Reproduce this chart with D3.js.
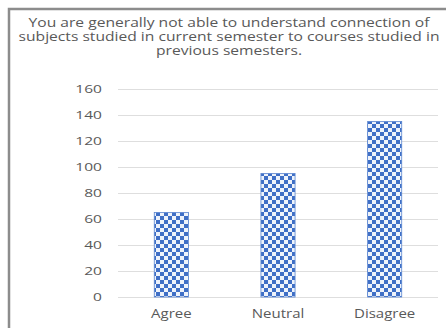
<!DOCTYPE html>
<html>
<head>
<meta charset="utf-8">
<script src="https://cdn.jsdelivr.net/npm/d3@7"></script>
<style>
  body { margin: 0; background: #fff; }
  svg { display: block; font-family: "Open Sans", sans-serif; }
</style>
</head>
<body>
<svg id="chart" width="446" height="328"></svg>
<script>
const categories = ['Agree', 'Neutral', 'Disagree'];
const counts = [65, 95, 135];
const yTicks = [0, 20, 40, 60, 80, 100, 120, 140, 160];
const titleLines = [
  'You are generally not able to understand connection of',
  'subjects studied in current semester to courses studied in',
  'previous semesters.'
];

const svg = d3.select('svg#chart');
const margin = { top: 89, left: 118, right: 8, bottom: 31 };
const width = 446, height = 328;
const textColor = '#595959';

// checkerboard fill like the excel pattern
const defs = svg.append('defs');
const pat = defs.append('pattern')
  .attr('id', 'checker')
  .attr('patternUnits', 'userSpaceOnUse')
  .attr('width', 8).attr('height', 8);
pat.append('rect').attr('width', 8).attr('height', 8).attr('fill', '#eef3fb');
pat.append('rect').attr('width', 4).attr('height', 4).attr('fill', '#3f6fc6');
pat.append('rect').attr('x', 4).attr('y', 4).attr('width', 4).attr('height', 4).attr('fill', '#3f6fc6');

// frame
svg.append('path')
  .attr('d', `M9,${height} V9 H${width}`)
  .attr('fill', 'none')
  .attr('stroke', '#8c8c8c')
  .attr('stroke-width', 2.5);

const x = d3.scaleBand()
  .domain(categories)
  .range([margin.left, width - margin.right])
  .paddingInner(0.68)
  .paddingOuter(0.34);

const y = d3.scaleLinear()
  .domain([0, 160])
  .range([height - margin.bottom, margin.top]);

svg.append('g')
  .selectAll('line').data(yTicks)
  .enter().append('line')
    .attr('x1', margin.left).attr('x2', width - margin.right)
    .attr('y1', d => y(d) + 0.5).attr('y2', d => y(d) + 0.5)
    .attr('stroke', '#dedede');

const yAxis = svg.append('g')
  .attr('transform', `translate(${margin.left - 16},0)`)
  .call(d3.axisLeft(y).tickValues(yTicks).tickSize(0).tickPadding(0));
yAxis.select('.domain').remove();
yAxis.selectAll('text')
  .attr('fill', textColor)
  .attr('transform', 'scale(1.35,1)')
  .style('font-size', '11.5px')
  .style('font-family', '"Open Sans", sans-serif');

svg.append('g')
  .selectAll('rect').data(counts)
  .enter().append('rect')
    .attr('x', (d, i) => x(categories[i]))
    .attr('width', x.bandwidth())
    .attr('y', d => y(d))
    .attr('height', d => y(0) - y(d))
    .attr('fill', 'url(#checker)')
    .attr('stroke', '#5b86d0')
    .attr('stroke-width', 0.8);

const xAxis = svg.append('g')
  .attr('transform', `translate(0,${y(0) + 12})`)
  .call(d3.axisBottom(x).tickSize(0).tickPadding(0));
xAxis.select('.domain').remove();
xAxis.selectAll('text')
  .attr('fill', textColor)
  .attr('transform', 'scale(1.25,1)')
  .style('font-size', '12px')
  .style('font-family', '"Open Sans", sans-serif');

svg.append('g')
  .attr('transform', 'translate(229,0) scale(1.24,1)')
  .append('text')
    .attr('text-anchor', 'middle')
    .attr('fill', textColor)
    .style('font-size', '12.6px')
  .selectAll('tspan').data(titleLines)
  .enter().append('tspan')
    .attr('x', 0)
    .attr('y', (d, i) => 27 + i * 14)
    .text(d => d);
</script>
</body>
</html>
